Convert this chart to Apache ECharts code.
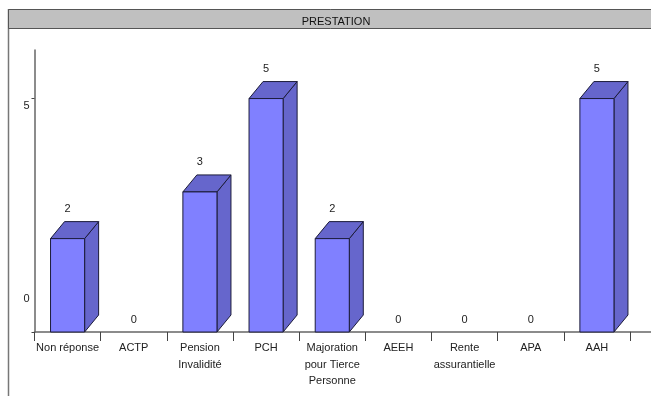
<!DOCTYPE html>
<html>
<head>
<meta charset="utf-8">
<script src="https://cdn.jsdelivr.net/npm/echarts@6/dist/echarts.min.js"></script>
<style>
  html, body { margin: 0; padding: 0; background: #fff; }
  #chart { width: 651px; height: 396px; }
</style>
</head>
<body>
<div id="chart"></div>
<script>
// Number of beneficiaries per benefit type
const categories = ['Non réponse', 'ACTP', 'Pension\nInvalidité', 'PCH', 'Majoration\npour Tierce\nPersonne', 'AEEH', 'Rente\nassurantielle', 'APA', 'AAH'];
const values = [2, 0, 3, 5, 2, 0, 0, 0, 5];
const yTickStep = 5;

const FONT = "'Liberation Sans', Arial, sans-serif";
const FS = 11;
const FRONT = '#8080ff';
const SHADE = '#6666cc';
const EDGE = '#1c1c3a';
const DX = 14, DY = 17;   // depth of the 3D extrusion

const chart = echarts.init(document.getElementById('chart'), null, { renderer: 'canvas' });

function renderBar(params, api) {
  const i = api.value(0);
  const v = api.value(1);
  const base = api.coord([i, 0]);
  const top = api.coord([i, v]);
  const w = api.size([1, 0])[0] * 0.515;
  const x0 = base[0] - w / 2, x1 = base[0] + w / 2;
  const yb = base[1], yt = top[1];
  const children = [];
  if (v > 0) {
    children.push({
      type: 'polygon',
      shape: { points: [[x1, yt], [x1 + DX, yt - DY], [x1 + DX, yb - DY], [x1, yb]] },
      style: { fill: SHADE, stroke: EDGE, lineWidth: 1 }
    });
    children.push({
      type: 'polygon',
      shape: { points: [[x0, yt], [x0 + DX, yt - DY], [x1 + DX, yt - DY], [x1, yt]] },
      style: { fill: SHADE, stroke: EDGE, lineWidth: 1 }
    });
    children.push({
      type: 'rect',
      shape: { x: x0, y: yt, width: w, height: yb - yt },
      style: { fill: FRONT, stroke: EDGE, lineWidth: 1 }
    });
  }
  const labelY = v > 0 ? yt - DY - 13 : yb - 12;
  children.push({
    type: 'text',
    style: {
      text: String(v), x: base[0], y: labelY,
      align: 'center', verticalAlign: 'middle',
      font: FS + 'px ' + FONT, fill: '#222'
    }
  });
  return { type: 'group', children };
}

chart.setOption({
  animation: false,
  backgroundColor: '#fff',
  title: {
    text: 'PRESTATION',
    left: 331, top: 11, textAlign: 'center',
    textStyle: { fontFamily: FONT, fontSize: FS, fontWeight: 'normal', color: '#111' }
  },
  grid: { left: 34.5, right: 21, top: 50, bottom: 64, containLabel: false },
  xAxis: {
    type: 'category',
    data: categories,
    axisLine: { lineStyle: { color: '#666', width: 1.5 } },
    axisTick: { show: true, length: 9, inside: false, lineStyle: { color: '#444', width: 1 } },
    axisLabel: {
      margin: 8, interval: 0, fontFamily: FONT, fontSize: FS, color: '#222', lineHeight: 16.5
    },
    splitLine: { show: false }
  },
  yAxis: {
    type: 'value',
    min: 0, max: 6.04, interval: yTickStep,
    axisLine: { show: true, lineStyle: { color: '#666', width: 1.5 } },
    axisTick: { show: true, length: 3, lineStyle: { color: '#444' } },
    axisLabel: {
      showMaxLabel: false, margin: 5,
      fontFamily: FONT, fontSize: FS, color: '#222',
      formatter: function (v) { return v === 0 ? '{z|0}' : '{f|' + v + '}'; },
      rich: {
        z: { fontFamily: FONT, fontSize: FS, color: '#222', padding: [0, 0, 66, 0] },
        f: { fontFamily: FONT, fontSize: FS, color: '#222', padding: [14, 0, 0, 0] }
      }
    },
    splitLine: { show: false }
  },
  series: [{
    type: 'custom',
    renderItem: renderBar,
    encode: { x: 0, y: 1 },
    data: values.map((v, i) => [i, v]),
    clip: false
  }]
});

// Frame, title band and the baseline running on to the right edge
const baseY = chart.convertToPixel({ yAxisIndex: 0 }, 0);
const lastX = chart.convertToPixel({ xAxisIndex: 0 }, categories.length - 1) + chart.getModel().getComponent('xAxis').axis.getBandWidth() / 2;
chart.setOption({
  graphic: [
    { type: 'line', z: -1, shape: { x1: 8.5, y1: 9, x2: 8.5, y2: 396 }, style: { stroke: '#777', lineWidth: 1.5 } },
    { type: 'rect', z: -1, shape: { x: 8.5, y: 9.5, width: 660, height: 19 }, style: { fill: '#c0c0c0', stroke: '#555', lineWidth: 1 } },
    { type: 'line', shape: { x1: lastX, y1: baseY, x2: 660, y2: baseY }, style: { stroke: '#666', lineWidth: 1.5 } }
  ]
});
</script>
</body>
</html>
